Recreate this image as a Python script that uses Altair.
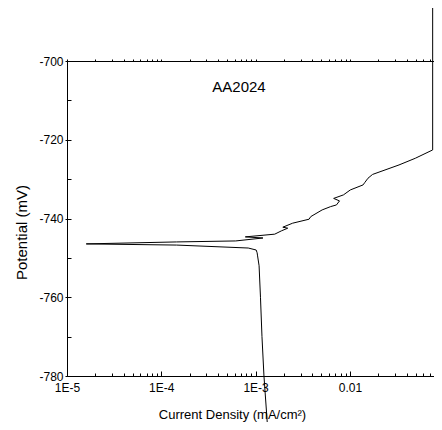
import altair as alt
import pandas as pd

# Polarization curve (current in mA/cm2, potential in mV)
current = [1.406e-3, 1.227e-3, 1.169e-3, 1.127e-3, 1.089e-3, 1.050e-3, 1.038e-3, 1.014e-3, 8.36e-4,
           1.452e-4, 1.60e-5, 1.452e-4, 6.15e-4, 1.197e-3, 7.78e-4, 1.596e-3, 1.875e-3, 2.193e-3,
           1.945e-3, 2.472e-3, 3.690e-3, 3.846e-3, 5.08e-3, 6.25e-3, 7.21e-3, 7.76e-3, 6.73e-3,
           8.55e-3, 1.012e-2, 1.380e-2, 1.436e-2, 1.556e-2, 1.738e-2, 3.319e-2, 4.943e-2, 7.55e-2, 7.55e-2]
potential = [-800, -780, -770, -760, -752, -749.5, -748.7, -748.0, -747.5,
             -746.75, -746.45, -745.95, -745.7, -744.95, -744.67, -743.98, -743.15, -742.46,
             -742.21, -741.19, -740.18, -739.52, -737.82, -736.98, -736.55, -735.53, -734.9,
             -734.0, -732.74, -731.47, -730.89, -729.77, -728.81, -726.40, -724.70, -722.59, -684]

x_major = [1e-5, 1e-4, 1e-3, 1e-2]
x_major_labels = ["1E-5", "1E-4", "1E-3", "0.01"]
x_minor = [m * d for d in [1e-5, 1e-4, 1e-3, 1e-2] for m in range(2, 10) if m * d < 0.078]
y_major = [-780, -760, -740, -720, -700]
y_minor = [-770, -750, -730, -710]
sample_label = ["AA2024"]

FONT = "Liberation Sans"

df = pd.DataFrame({"idx": list(range(len(current))), "current": current, "potential": potential})

xscale = alt.Scale(type="log", domain=[1e-5, 0.078], nice=False)
yscale = alt.Scale(domain=[-780, -700], nice=False, zero=False)

label_expr = "[" + ",".join(f"'{l}'" for l in x_major_labels) + "][round(log(datum.value)/LN10)+5]"

base = alt.Chart(df)

line = base.mark_line(color="black", strokeWidth=1, clip=False).encode(
    x=alt.X("current:Q", scale=xscale,
            axis=alt.Axis(orient="bottom", values=x_major, labelExpr=label_expr, ticks=False,
                          grid=False, domainColor="black", domainWidth=1,
                          labelFlush=False, labelOverlap=False,
                          labelFont=FONT, labelFontSize=12, labelColor="black", labelPadding=6,
                          title="Current Density (mA/cm²)", titleFont=FONT, titleFontSize=13,
                          titleFontWeight="normal", titleColor="black",
                          titleX=165, titleY=32, titleAlign="center", titleBaseline="top")),
    y=alt.Y("potential:Q", scale=yscale,
            axis=alt.Axis(orient="left", values=y_major, labelExpr="'' + datum.value",
                          tickSize=2, tickColor="black",
                          grid=False, domainColor="black", domainWidth=1,
                          labelFlush=False, labelOverlap=False,
                          labelFont=FONT, labelFontSize=12, labelColor="black", labelPadding=2,
                          title="Potential (mV)", titleFont=FONT, titleFontSize=15,
                          titleFontWeight="normal", titleColor="black",
                          titleX=-38, titleY=171, titleAngle=270, titleAlign="center",
                          titleBaseline="bottom")),
    order="idx:Q",
)

def tick_layer(values, orient, offset, size, chan):
    ax = alt.Axis(orient=orient, values=values, offset=offset, tickSize=size, tickColor="black",
                  labels=False, domain=False, grid=False, title=None)
    if chan == "x":
        return base.mark_line(opacity=0, clip=False).encode(
            x=alt.X("current:Q", scale=xscale, axis=ax),
            y=alt.Y("potential:Q", scale=yscale, axis=None), order="idx:Q")
    return base.mark_line(opacity=0, clip=False).encode(
        x=alt.X("current:Q", scale=xscale, axis=None),
        y=alt.Y("potential:Q", scale=yscale, axis=ax), order="idx:Q")

x_in_major = tick_layer(x_major, "bottom", -5, 5, "x")
x_in_minor = tick_layer(x_minor, "bottom", -3, 3, "x")
y_in_all = tick_layer(y_major + y_minor, "left", -4, 4, "y")

top_axis = base.mark_line(opacity=0, clip=False).encode(
    x=alt.X("current:Q", scale=xscale,
            axis=alt.Axis(orient="top", values=x_major + x_minor, tickSize=2, tickColor="black",
                          labels=False, domain=True, domainColor="black", grid=False, title=None)),
    y=alt.Y("potential:Q", scale=yscale, axis=None), order="idx:Q")

label = alt.Chart(pd.DataFrame({"t": sample_label})).mark_text(
    font=FONT, fontSize=15, color="black", align="center", baseline="middle"
).encode(x=alt.value(172), y=alt.value(26), text="t:N")

chart = alt.layer(line, x_in_major, x_in_minor, y_in_all, top_axis, label).resolve_scale(
    x="shared", y="shared").resolve_axis(x="independent", y="independent").properties(
    width=367, height=315,
    autosize=alt.AutoSizeParams(type="none"),
    padding={"left": 59, "top": 53, "right": 0, "bottom": 46},
).configure_view(stroke=None).configure(background="white")

chart.save("out.html", embed_options={"renderer": "svg", "actions": False})
